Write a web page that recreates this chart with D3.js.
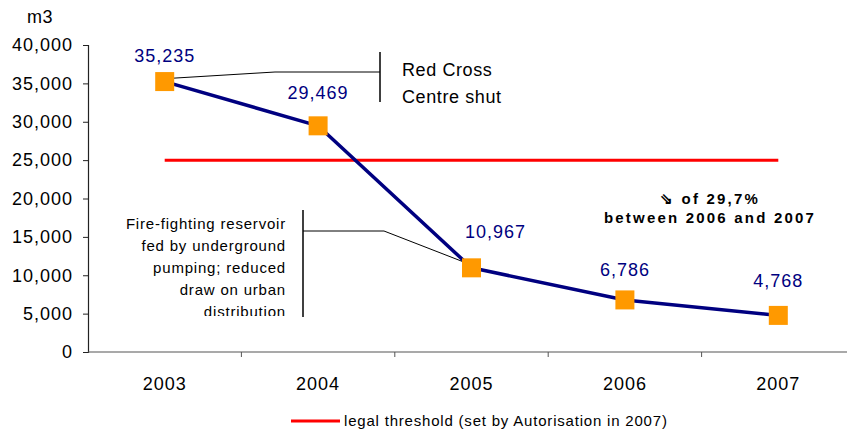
<!DOCTYPE html>
<html>
<head>
<meta charset="utf-8">
<script src="https://cdn.jsdelivr.net/npm/d3@7"></script>
<style>
  html, body { margin: 0; padding: 0; background: #fff; }
  svg { display: block; font-family: "Liberation Sans", Arial, sans-serif; }
</style>
</head>
<body>
<svg id="chart" width="847" height="432"></svg>
<script>
// Yearly water consumption (m3)
const years = ["2003", "2004", "2005", "2006", "2007"];
const consumption = [35235, 29469, 10967, 6786, 4768];
const threshold = 25000;
const yTicks = [0, 5000, 10000, 15000, 20000, 25000, 30000, 35000, 40000];
const fireNote = ["Fire-fighting reservoir", "fed by underground", "pumping; reduced", "draw on urban", "distribution"];
const redCrossNote = ["Red Cross", "Centre shut"];
const dropNote = ["\u21D8 of 29,7%", "between 2006 and 2007"];
const legendLabel = "legal threshold (set by Autorisation in 2007)";

const svg = d3.select("#chart");
const fmt = d3.format(",");

const x = d3.scaleBand().domain(years).range([88, 855]).paddingInner(0).paddingOuter(0);
const y = d3.scaleLinear().domain([0, 40000]).range([352, 45]);
const cx = d => x(d) + x.bandwidth() / 2;

// y axis
const yAxis = svg.append("g").attr("transform", "translate(88,0)")
  .call(d3.axisLeft(y).tickValues(yTicks).tickFormat(fmt).tickSize(5).tickPadding(10));
yAxis.select(".domain").attr("stroke", "#222").attr("stroke-width", 1.2);
yAxis.selectAll(".tick line").attr("stroke", "#222");
yAxis.selectAll("text").attr("font-size", 18).attr("letter-spacing", 1).attr("fill", "#000")
  .attr("font-family", "Liberation Sans, Arial, sans-serif");

// x axis with ticks between categories
const xAxisG = svg.append("g").attr("transform", "translate(0,352)");
xAxisG.append("line").attr("x1", 88).attr("x2", 847).attr("y1", 0).attr("y2", 0)
  .attr("stroke", "#555").attr("stroke-width", 1.2);
xAxisG.selectAll("line.sep").data(years.slice(1)).join("line")
  .attr("class", "sep")
  .attr("x1", d => x(d)).attr("x2", d => x(d)).attr("y1", 0).attr("y2", 5)
  .attr("stroke", "#555");
xAxisG.selectAll("text").data(years).join("text")
  .attr("x", d => cx(d)).attr("y", 38)
  .attr("text-anchor", "middle").attr("font-size", 18).attr("letter-spacing", 1).attr("fill", "#000")
  .text(d => d);

// y unit
svg.append("text").attr("x", 40).attr("y", 23).attr("text-anchor", "middle")
  .attr("font-size", 18).attr("letter-spacing", 0.5).text("m3");

// threshold line
svg.append("line")
  .attr("x1", cx(years[0])).attr("x2", cx(years[years.length - 1]))
  .attr("y1", y(threshold)).attr("y2", y(threshold))
  .attr("stroke", "#FF0000").attr("stroke-width", 3);

// Red Cross annotation
const p0 = [cx(years[0]), y(consumption[0])];
svg.append("path")
  .attr("d", `M${p0[0] + 2},${p0[1] - 3} L275,72 L380,72`)
  .attr("fill", "none").attr("stroke", "#000").attr("stroke-width", 1);
svg.append("line").attr("x1", 380).attr("x2", 380).attr("y1", 52).attr("y2", 102)
  .attr("stroke", "#000").attr("stroke-width", 1.5);
svg.selectAll("text.rc").data(redCrossNote).join("text")
  .attr("class", "rc").attr("x", 402).attr("y", (d, i) => 76 + i * 27)
  .attr("font-size", 18).attr("letter-spacing", 0.6).attr("fill", "#000").text(d => d);

// Fire-fighting annotation
const p2 = [cx(years[2]), y(consumption[2])];
svg.append("path")
  .attr("d", `M303,231 L384,231 L${p2[0] - 3},${p2[1] - 4}`)
  .attr("fill", "none").attr("stroke", "#000").attr("stroke-width", 1);
svg.append("line").attr("x1", 303).attr("x2", 303).attr("y1", 210).attr("y2", 317)
  .attr("stroke", "#000").attr("stroke-width", 1.5);
svg.append("clipPath").attr("id", "noteClip")
  .append("rect").attr("x", 100).attr("y", 205).attr("width", 200).attr("height", 111);
svg.append("g").attr("clip-path", "url(#noteClip)")
  .selectAll("text").data(fireNote).join("text")
  .attr("x", 286).attr("y", (d, i) => 229 + i * 22)
  .attr("text-anchor", "end").attr("font-size", 15).attr("letter-spacing", 0.8).attr("fill", "#000")
  .text(d => d);

// consumption line
const line = d3.line().x((d, i) => cx(years[i])).y(d => y(d));
svg.append("path").datum(consumption)
  .attr("d", line).attr("fill", "none")
  .attr("stroke", "#000080").attr("stroke-width", 3.5).attr("stroke-linejoin", "round");

// markers
const ms = 19;
svg.selectAll("rect.mk").data(consumption).join("rect")
  .attr("class", "mk")
  .attr("x", (d, i) => cx(years[i]) - ms / 2).attr("y", d => y(d) - ms / 2)
  .attr("width", ms).attr("height", ms).attr("fill", "#FF9900");

// value labels
const labelOffset = [[0, -20], [0, -27], [24, -30], [0, -24], [0, -28]];
svg.selectAll("text.val").data(consumption).join("text")
  .attr("class", "val")
  .attr("x", (d, i) => cx(years[i]) + labelOffset[i][0])
  .attr("y", (d, i) => y(d) + labelOffset[i][1])
  .attr("text-anchor", "middle").attr("font-size", 18).attr("letter-spacing", 1).attr("fill", "#000080")
  .text(d => fmt(d));

// decrease note
svg.selectAll("text.drop").data(dropNote).join("text")
  .attr("class", "drop").attr("x", 710).attr("y", (d, i) => 204 + i * 19)
  .attr("text-anchor", "middle").attr("font-size", 15).attr("font-weight", "bold")
  .attr("letter-spacing", 2.2).attr("fill", "#000").text(d => d);

// legend
svg.append("line").attr("x1", 291).attr("x2", 340).attr("y1", 421).attr("y2", 421)
  .attr("stroke", "#FF0000").attr("stroke-width", 3);
svg.append("text").attr("x", 344).attr("y", 426).attr("font-size", 15).attr("letter-spacing", 0.8)
  .attr("fill", "#000").text(legendLabel);
</script>
</body>
</html>
